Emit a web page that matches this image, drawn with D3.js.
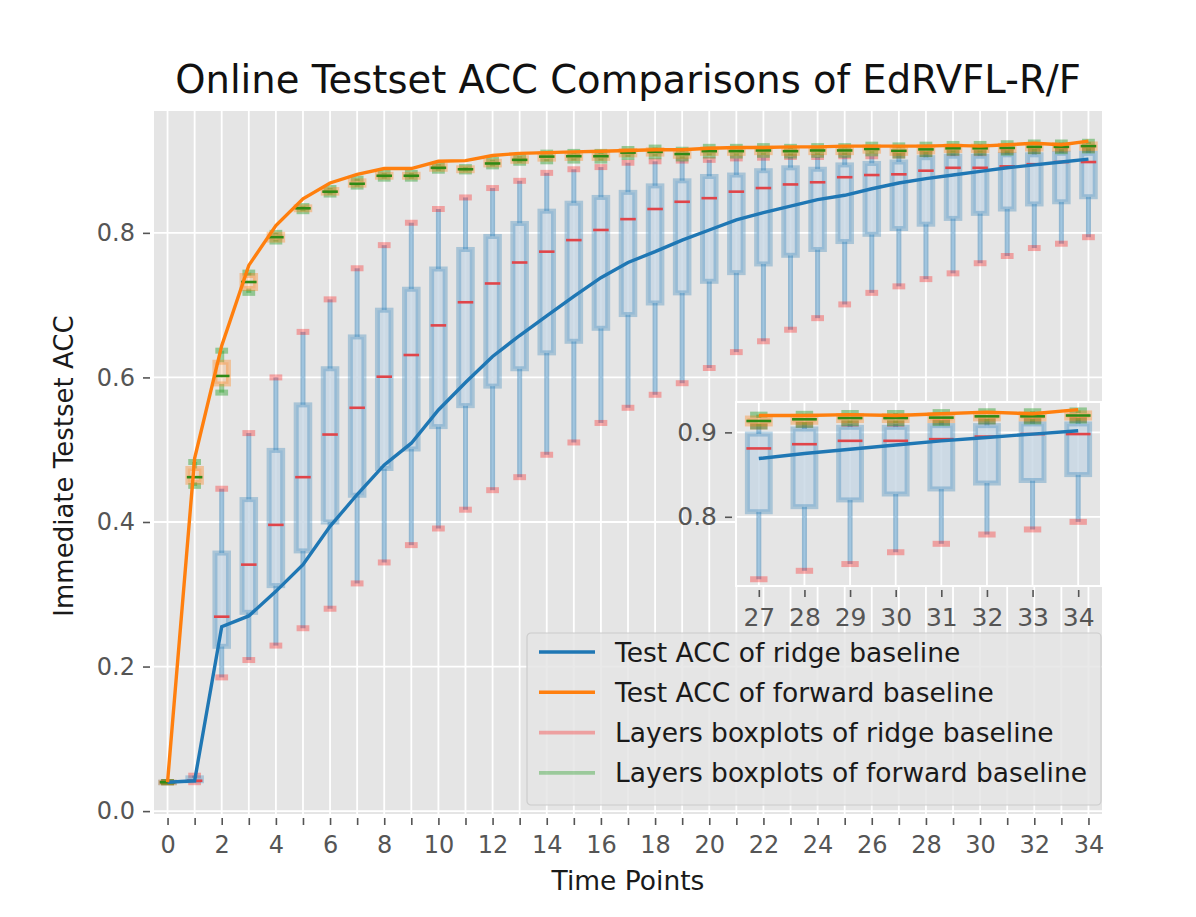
<!DOCTYPE html>
<html lang="en">
<head>
    <meta charset="UTF-8">
    <title>Online Testset ACC Comparisons of EdRVFL-R/F</title>
    <script src="https://d3js.org/d3.v7.min.js"></script>
    <style>
        body { margin: 0; background: #fff; }
        text { font-family: "DejaVu Sans", sans-serif; }
    </style>
</head>
<body>
<svg width="1196" height="917" viewBox="0 0 1196 917"></svg>
<script>
    // time points 0..34
    const timePoints = d3.range(0, 35)

    // immediate test ACC of the two baselines
    const ridgeAcc = [0.040,0.042,0.255,0.270,0.304,0.341,0.394,0.438,0.479,0.509,0.555,0.593,0.629,0.658,0.685,0.712,0.738,0.759,0.774,0.790,0.804,0.818,0.828,0.837,0.846,0.852,0.861,0.869,0.875,0.880,0.885,0.890,0.894,0.898,0.902]
    const forwardAcc = [0.040,0.488,0.644,0.755,0.810,0.847,0.869,0.881,0.889,0.889,0.899,0.900,0.907,0.910,0.911,0.912,0.913,0.914,0.915,0.915,0.917,0.918,0.918,0.919,0.919,0.920,0.920,0.920,0.920,0.921,0.920,0.922,0.924,0.922,0.927]

    // layer boxplots, ridge baseline
    const ridgeLo  = [0.040,0.040,0.185,0.209,0.229,0.253,0.280,0.315,0.344,0.368,0.391,0.417,0.444,0.462,0.493,0.510,0.537,0.558,0.576,0.592,0.613,0.635,0.650,0.666,0.682,0.701,0.717,0.726,0.736,0.744,0.758,0.768,0.779,0.785,0.794]
    const ridgeQ1  = [0.040,0.042,0.228,0.275,0.312,0.360,0.400,0.437,0.474,0.501,0.532,0.561,0.588,0.612,0.634,0.650,0.668,0.687,0.703,0.717,0.733,0.745,0.757,0.769,0.777,0.788,0.798,0.806,0.812,0.820,0.827,0.833,0.840,0.843,0.850]
    const ridgeMed = [0.040,0.042,0.269,0.341,0.396,0.462,0.521,0.558,0.601,0.631,0.672,0.704,0.730,0.759,0.774,0.790,0.804,0.819,0.833,0.843,0.848,0.857,0.862,0.867,0.870,0.877,0.880,0.881,0.886,0.890,0.890,0.892,0.895,0.898,0.898]
    const ridgeQ3  = [0.040,0.046,0.357,0.431,0.499,0.562,0.612,0.656,0.693,0.722,0.750,0.777,0.795,0.813,0.830,0.841,0.849,0.856,0.865,0.872,0.878,0.880,0.886,0.890,0.888,0.894,0.896,0.898,0.904,0.906,0.906,0.908,0.908,0.910,0.910]
    const ridgeHi  = [0.040,0.049,0.446,0.523,0.600,0.663,0.708,0.751,0.783,0.814,0.833,0.849,0.862,0.872,0.883,0.888,0.891,0.897,0.899,0.900,0.901,0.903,0.904,0.905,0.905,0.906,0.906,0.907,0.909,0.910,0.910,0.912,0.913,0.914,0.915]

    // layer boxplots, forward baseline
    const fwdLo  = [0.040,0.450,0.579,0.717,0.788,0.830,0.853,0.864,0.875,0.875,0.886,0.885,0.892,0.897,0.899,0.900,0.900,0.905,0.906,0.903,0.907,0.907,0.908,0.907,0.908,0.908,0.910,0.907,0.909,0.911,0.911,0.911,0.913,0.913,0.914]
    const fwdQ1  = [0.040,0.455,0.591,0.723,0.790,0.832,0.855,0.866,0.877,0.877,0.888,0.886,0.894,0.899,0.902,0.903,0.903,0.908,0.909,0.906,0.910,0.910,0.911,0.910,0.911,0.911,0.913,0.910,0.912,0.914,0.914,0.914,0.916,0.916,0.917]
    const fwdMed = [0.040,0.462,0.602,0.732,0.794,0.834,0.857,0.868,0.879,0.879,0.890,0.888,0.896,0.901,0.9055,0.906,0.906,0.911,0.912,0.909,0.913,0.913,0.914,0.913,0.914,0.914,0.916,0.9135,0.9155,0.917,0.917,0.9175,0.919,0.919,0.920]
    const fwdQ3  = [0.040,0.474,0.621,0.741,0.798,0.836,0.860,0.872,0.881,0.881,0.893,0.890,0.899,0.904,0.909,0.909,0.909,0.914,0.915,0.912,0.916,0.916,0.917,0.916,0.917,0.917,0.919,0.917,0.919,0.920,0.920,0.921,0.922,0.922,0.923]
    const fwdHi  = [0.040,0.483,0.637,0.745,0.800,0.837,0.862,0.875,0.883,0.883,0.895,0.891,0.901,0.906,0.911,0.912,0.912,0.916,0.918,0.915,0.919,0.919,0.920,0.919,0.920,0.920,0.922,0.921,0.922,0.923,0.923,0.924,0.925,0.925,0.926]

    const mainYTicks = [0, 0.2, 0.4, 0.6, 0.8]
    const insetTimes = d3.range(27, 35)
    const insetYTicks = [0.8, 0.9]
    const legendLabels = ["Test ACC of ridge baseline", "Test ACC of forward baseline",
        "Layers boxplots of ridge baseline", "Layers boxplots of forward baseline"]

    let svg = d3.select('svg')

    // main axes
    let x = d3.scaleLinear().domain([-0.5, 34.5]).range([154, 1102])
    let y = d3.scaleLinear().domain([-0.004, 0.9686]).range([814, 111])

    // inset axes
    let xi = d3.scaleLinear().domain([26.5, 34.5]).range([736, 1101])
    let yi = d3.scaleLinear().domain([0.718, 0.936]).range([586, 402])

    const ridgeStyle = {
        boxFill: "#c5d6e3", boxFillOp: 0.8, boxStroke: "#1f77b4", boxStrokeOp: 0.3,
        whisker: "#1f77b4", whiskerOp: 0.42, cap: "#ff0000", capOp: 0.3, median: "#e0454a"
    }
    const fwdStyle = {
        boxFill: "#ff7f0e", boxFillOp: 0.18, boxStroke: "#ff7f0e", boxStrokeOp: 0.35,
        whisker: "#2ca02c", whiskerOp: 0.45, cap: "#2ca02c", capOp: 0.45, median: "#2f8a16"
    }

    function drawPanel(g, xs, ys, times, ticksX, ticksY, labelEvery, clipId, tickFont) {
        let [x0, x1] = xs.range()
        let [yb, yt] = ys.range()

        g.append("rect")
            .attr("x", x0).attr("y", yt)
            .attr("width", x1 - x0).attr("height", yb - yt)
            .attr("fill", "#e5e5e5")

        g.append("clipPath").attr("id", clipId)
            .append("rect")
            .attr("x", x0).attr("y", yt)
            .attr("width", x1 - x0).attr("height", yb - yt)

        // grid
        g.append("g").selectAll("line").data(ticksX).join("line")
            .attr("x1", d => xs(d)).attr("x2", d => xs(d))
            .attr("y1", yt).attr("y2", yb)
            .attr("stroke", "#fff").attr("stroke-width", 1.8)
        g.append("g").selectAll("line").data(ticksY).join("line")
            .attr("x1", x0).attr("x2", x1)
            .attr("y1", d => ys(d)).attr("y2", d => ys(d))
            .attr("stroke", "#fff").attr("stroke-width", 1.8)

        // axes
        let ax = g.append("g").attr("transform", `translate(0,${yb})`)
            .call(d3.axisBottom(xs).tickValues(ticksX).tickSize(7).tickPadding(8)
                .tickFormat(d => d % labelEvery === 0 ? d : ""))
        let ay = g.append("g").attr("transform", `translate(${x0},0)`)
            .call(d3.axisLeft(ys).tickValues(ticksY).tickSize(7).tickPadding(8)
                .tickFormat(d3.format(".1f")))
        for (let a of [ax, ay]) {
            a.select(".domain").remove()
            a.selectAll(".tick line").attr("stroke", "#555").attr("stroke-width", 1.6)
                .attr("transform", a === ax ? "translate(0,4)" : "translate(-4,0)")
            a.selectAll(".tick text").attr("fill", "#555").attr("font-size", tickFont)
                .attr("font-family", "DejaVu Sans")
        }
        ax.selectAll(".tick text").attr("dy", "1.0em")
        ay.selectAll(".tick text").attr("dx", "-4")

        let plot = g.append("g").attr("clip-path", `url(#${clipId})`)
        drawBoxes(plot, xs, ys, times, ridgeLo, ridgeQ1, ridgeMed, ridgeQ3, ridgeHi, ridgeStyle)
        drawBoxes(plot, xs, ys, times, fwdLo, fwdQ1, fwdMed, fwdQ3, fwdHi, fwdStyle)

        let line = (vals) => d3.line().x(t => xs(t)).y(t => ys(vals[t]))(times)
        plot.append("path").attr("d", line(ridgeAcc))
            .attr("fill", "none").attr("stroke", "#1f77b4").attr("stroke-width", 3.4)
        plot.append("path").attr("d", line(forwardAcc))
            .attr("fill", "none").attr("stroke", "#ff7f0e").attr("stroke-width", 3.4)
    }

    function drawBoxes(g, xs, ys, times, lo, q1, med, q3, hi, st) {
        let bw = xs(0.25) - xs(0)      // half box width
        let cw = xs(0.125) - xs(0)     // half cap width
        let grp = g.append("g")

        grp.selectAll(".wl").data(times).join("line")
            .attr("x1", t => xs(t)).attr("x2", t => xs(t))
            .attr("y1", t => ys(lo[t])).attr("y2", t => ys(q1[t]))
            .attr("stroke", st.whisker).attr("stroke-opacity", st.whiskerOp).attr("stroke-width", 5)
        grp.selectAll(".wh").data(times).join("line")
            .attr("x1", t => xs(t)).attr("x2", t => xs(t))
            .attr("y1", t => ys(q3[t])).attr("y2", t => ys(hi[t]))
            .attr("stroke", st.whisker).attr("stroke-opacity", st.whiskerOp).attr("stroke-width", 5)

        grp.selectAll(".cap").data(times.flatMap(t => [[t, lo[t]], [t, hi[t]]])).join("line")
            .attr("x1", d => xs(d[0]) - cw).attr("x2", d => xs(d[0]) + cw)
            .attr("y1", d => ys(d[1])).attr("y2", d => ys(d[1]))
            .attr("stroke", st.cap).attr("stroke-opacity", st.capOp)
            .attr("stroke-width", 6).attr("stroke-linecap", "square")

        grp.selectAll(".box").data(times).join("rect")
            .attr("x", t => xs(t) - bw).attr("width", 2 * bw)
            .attr("y", t => ys(q3[t])).attr("height", t => Math.max(ys(q1[t]) - ys(q3[t]), 0.5))
            .attr("fill", st.boxFill).attr("fill-opacity", st.boxFillOp)
            .attr("stroke", st.boxStroke).attr("stroke-opacity", st.boxStrokeOp).attr("stroke-width", 5)

        grp.selectAll(".med").data(times).join("line")
            .attr("x1", t => xs(t) - bw - 1).attr("x2", t => xs(t) + bw + 1)
            .attr("y1", t => ys(med[t])).attr("y2", t => ys(med[t]))
            .attr("stroke", st.median).attr("stroke-width", 2.6)
    }

    // main panel
    let mainG = svg.append("g")
    drawPanel(mainG, x, y, timePoints, timePoints, mainYTicks, 2, "clipMain", 24)

    // legend
    let legendColors = [["#1f77b4", 1], ["#ff7f0e", 1], ["#ff0000", 0.3], ["#2ca02c", 0.4]]
    let leg = svg.append("g").attr("transform", "translate(527,633)")
    leg.append("rect").attr("width", 574).attr("height", 172).attr("rx", 4)
        .attr("fill", "#e5e5e5").attr("fill-opacity", 0.85)
        .attr("stroke", "#cccccc").attr("stroke-width", 1.2)
    let items = leg.selectAll(".item").data(legendLabels).join("g")
        .attr("transform", (d, i) => `translate(0,${19 + i * 40.3})`)
    items.append("line").attr("x1", 12).attr("x2", 68)
        .attr("stroke", (d, i) => legendColors[i][0])
        .attr("stroke-opacity", (d, i) => legendColors[i][1])
        .attr("stroke-width", 3.6)
    items.append("text").attr("x", 88).attr("dy", "0.36em")
        .attr("font-size", 26.5).attr("fill", "#1a1a1a").text(d => d)

    // inset panel
    let insetG = svg.append("g")
    drawPanel(insetG, xi, yi, insetTimes, insetTimes, insetYTicks, 1, "clipInset", 25)
    insetG.append("rect")
        .attr("x", 736).attr("y", 402).attr("width", 365).attr("height", 184)
        .attr("fill", "none").attr("stroke", "#fff").attr("stroke-width", 2)

    // titles
    svg.append("text").attr("x", 628).attr("y", 93).attr("text-anchor", "middle")
        .attr("font-size", 38.5).attr("fill", "#111")
        .text("Online Testset ACC Comparisons of EdRVFL-R/F")
    svg.append("text").attr("x", 628).attr("y", 890).attr("text-anchor", "middle")
        .attr("font-size", 26.5).attr("fill", "#1a1a1a").text("Time Points")
    svg.append("text").attr("transform", "translate(73,466) rotate(-90)")
        .attr("text-anchor", "middle")
        .attr("font-size", 26).attr("fill", "#1a1a1a").text("Immediate Testset ACC")
</script>
</body>
</html>
